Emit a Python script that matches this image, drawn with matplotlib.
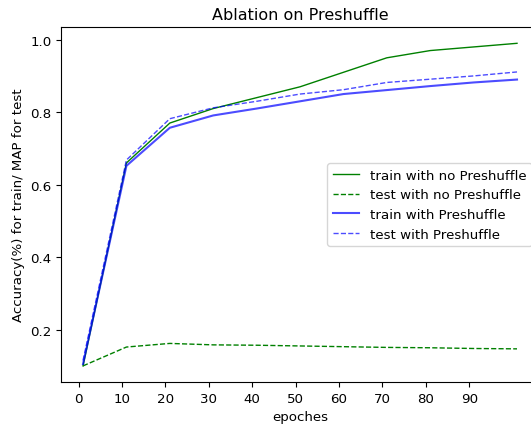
import matplotlib.pyplot as plt

epochs = [1, 11, 21, 31, 41, 51, 61, 71, 81, 91, 101]

train_no_shuffle = [0.10, 0.66, 0.77, 0.81, 0.84, 0.87, 0.91, 0.95, 0.97, 0.98, 0.99]
test_no_shuffle = [0.10, 0.152, 0.162, 0.158, 0.157, 0.155, 0.153, 0.151, 0.150, 0.148, 0.147]
train_shuffle = [0.105, 0.652, 0.757, 0.791, 0.81, 0.83, 0.85, 0.861, 0.872, 0.882, 0.89]
test_shuffle = [0.115, 0.668, 0.782, 0.812, 0.83, 0.85, 0.862, 0.882, 0.891, 0.90, 0.911]

xticks = list(range(0, 100, 10))

plt.rcParams['font.size'] = 9.6

fig = plt.figure(figsize=(5.31, 4.27), dpi=100)
ax = fig.add_axes([0.1155, 0.103, 0.899, 0.831])

ax.plot(epochs, train_no_shuffle, color='green', linewidth=1, label='train with no Preshuffle')
ax.plot(epochs, test_no_shuffle, color='green', linewidth=1, linestyle='--', label='test with no Preshuffle')
ax.plot(epochs, train_shuffle, color='blue', alpha=0.7, linewidth=1.5, label='train with Preshuffle')
ax.plot(epochs, test_shuffle, color='blue', alpha=0.7, linewidth=1, linestyle='--', label='test with Preshuffle')

ax.set_xticks(xticks)
ax.set_title('Ablation on Preshuffle')
ax.set_xlabel('epoches')
ax.set_ylabel('Accuracy(%) for train/ MAP for test')
ax.legend(loc='center right')

plt.savefig('out.png', dpi=100)
plt.close()
